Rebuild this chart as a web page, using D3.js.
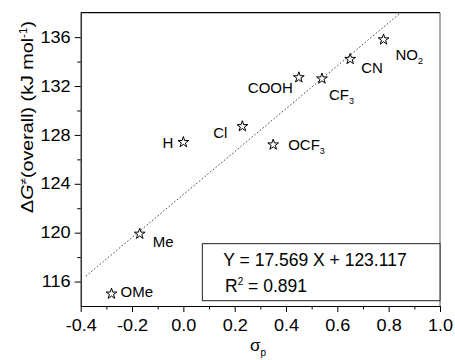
<!DOCTYPE html>
<html><head><meta charset="utf-8">
<script src="https://cdn.jsdelivr.net/npm/d3@7"></script>
<style>
body{margin:0;background:#fff}
svg{display:block}
text{font-family:"Liberation Sans",Arial,sans-serif;fill:#000}
</style>
</head><body>
<svg id="chart" width="455" height="360"></svg>
<script>
// ---- data ----
const substituents = ["OMe","Me","H","Cl","OCF3","COOH","CF3","CN","NO2"];
const sigmaP = [-0.28,-0.17,0.00,0.23,0.35,0.45,0.54,0.65,0.78];
const dG = [115.0,119.9,127.4,128.7,127.2,132.7,132.6,134.2,135.8];
const xTicks = [-0.4,-0.2,0.0,0.2,0.4,0.6,0.8,1.0];
const xMinorTicks = [-0.3,-0.1,0.1,0.3,0.5,0.7,0.9];
const yTicks = [116,120,124,128,132,136];
const yMinorTicks = [118,122,126,130,134];
const fitSlope = 17.569, fitIntercept = 123.117, fitR2 = 0.891;
const fitStart = -0.38;

// ---- layout ----
const W = 455, H = 360;
const m = {left:80.7, right:15, top:12.7, bottom:54};
const pw = W - m.left - m.right, ph = H - m.top - m.bottom;
const svg = d3.select("#chart");
const g = svg.append("g").attr("transform",`translate(${m.left},${m.top})`);

const x = d3.scaleLinear().domain([-0.4,1.0]).range([0,pw]);
const y = d3.scaleLinear().domain([114,138]).range([ph,0]);
const SX = 1.13; // horizontal stretch of the reference's lettering

// frame (top + right)
g.append("line").attr("x1",0).attr("x2",pw).attr("y1",0).attr("y2",0).attr("stroke","#000").attr("stroke-width",1.2);
g.append("line").attr("x1",pw).attr("x2",pw).attr("y1",0).attr("y2",ph).attr("stroke","#555").attr("stroke-width",1);

// fit line
const fitEnd = (y.domain()[1]-fitIntercept)/fitSlope;
g.append("line")
  .attr("x1",x(fitStart)).attr("y1",y(fitSlope*fitStart+fitIntercept))
  .attr("x2",x(fitEnd)).attr("y2",y(fitSlope*fitEnd+fitIntercept))
  .attr("stroke","#333").attr("stroke-width",0.9).attr("stroke-dasharray","1.6,2");

// equation box
const bx = x(0.074), by = y(119.1);
g.append("rect").attr("x",bx).attr("y",by).attr("width",pw-bx).attr("height",ph-5.3-by)
  .attr("fill","#fff").attr("stroke","#222").attr("stroke-width",1);
const eq1 = g.append("text").attr("transform",`translate(${bx+21},${by+21.9})`).style("font-size","17.5px");
eq1.text(`Y = ${fitSlope} X + ${fitIntercept}`);
const eq2 = g.append("text").attr("transform",`translate(${bx+22.7},${by+48.6})`).style("font-size","17.5px");
eq2.append("tspan").text("R");
eq2.append("tspan").attr("dy",-7).style("font-size","10px").text("2");
eq2.append("tspan").attr("dy",7).text(` = ${fitR2.toFixed(3)}`);

// axes
const xAxis = g.append("g").attr("transform",`translate(0,${ph})`)
  .call(d3.axisBottom(x).tickValues(xTicks).tickFormat(d=>d.toFixed(1)).tickSizeInner(6).tickSizeOuter(0).tickPadding(8));
const xMinor = g.append("g").attr("transform",`translate(0,${ph})`)
  .call(d3.axisBottom(x).tickValues(xMinorTicks).tickFormat("").tickSizeInner(3.5).tickSizeOuter(0));
const yAxis = g.append("g")
  .call(d3.axisLeft(y).tickValues(yTicks).tickFormat(d3.format("d")).tickSizeInner(6).tickSizeOuter(0).tickPadding(3));
const yMinor = g.append("g")
  .call(d3.axisLeft(y).tickValues(yMinorTicks).tickFormat("").tickSizeInner(3.5).tickSizeOuter(0));
[xAxis,xMinor,yAxis,yMinor].forEach(a=>{
  a.select(".domain").attr("stroke","#000").attr("stroke-width",1.2);
  a.selectAll(".tick line").attr("stroke","#000").attr("stroke-width",1);
});
xMinor.select(".domain").remove(); yMinor.select(".domain").remove();
xAxis.selectAll("text").style("font-size","16px").attr("fill","#000")
  .attr("transform",`scale(${SX},1)`);
yAxis.selectAll("text").style("font-size","16px").attr("fill","#000")
  .attr("transform",`scale(${SX},1)`);

// points
const pts = substituents.map((s,i)=>({name:s,sx:sigmaP[i],dg:dG[i]}));
g.selectAll("path.pt").data(pts).join("path").attr("class","pt")
  .attr("transform",d=>`translate(${x(d.sx)},${y(d.dg)})`)
  .attr("d",d3.symbol(d3.symbolStar,36))
  .attr("fill","#fff").attr("stroke","#000").attr("stroke-width",1);

// point labels (offsets relative to the star)
const labelPos = {
  OMe:[9,-2,"start"], Me:[13,8,"start"], H:[-10,0,"end"], Cl:[-15,6.5,"end"],
  OCF3:[15,0.5,"start"], COOH:[-6,10.5,"end"], CF3:[7,16.5,"start"],
  CN:[11,9,"start"], NO2:[12,15,"start"]
};
pts.forEach(d=>{
  const [dx,dy,anc] = labelPos[d.name];
  const mm = d.name.match(/^(.*?)(\d*)$/);
  const t = g.append("text")
    .attr("x",x(d.sx)+dx).attr("y",y(d.dg)+dy+5.3)
    .attr("text-anchor",anc).style("font-size","15px");
  t.append("tspan").text(mm[1]);
  if(mm[2]) t.append("tspan").attr("dy",4).style("font-size","9px").text(mm[2]);
});

// axis titles
const xl = svg.append("text").attr("transform",`translate(258,351)`).attr("text-anchor","middle").style("font-size","17px");
xl.append("tspan").text("σ");
xl.append("tspan").attr("dy",5).style("font-size","10px").text("p");

const yl = svg.append("text").attr("transform",`translate(33,117) rotate(-90) scale(1.16,1)`)
  .attr("text-anchor","middle").style("font-size","17px");
yl.append("tspan").text("Δ");
yl.append("tspan").style("font-style","italic").text("G");
yl.append("tspan").attr("dy",-6.5).style("font-size","10px").text("≠");
yl.append("tspan").attr("dy",6.5).text("(overall) (kJ mol");
yl.append("tspan").attr("dy",-6.5).style("font-size","10px").text("-1");
yl.append("tspan").attr("dy",6.5).text(")");
</script>
</body></html>
